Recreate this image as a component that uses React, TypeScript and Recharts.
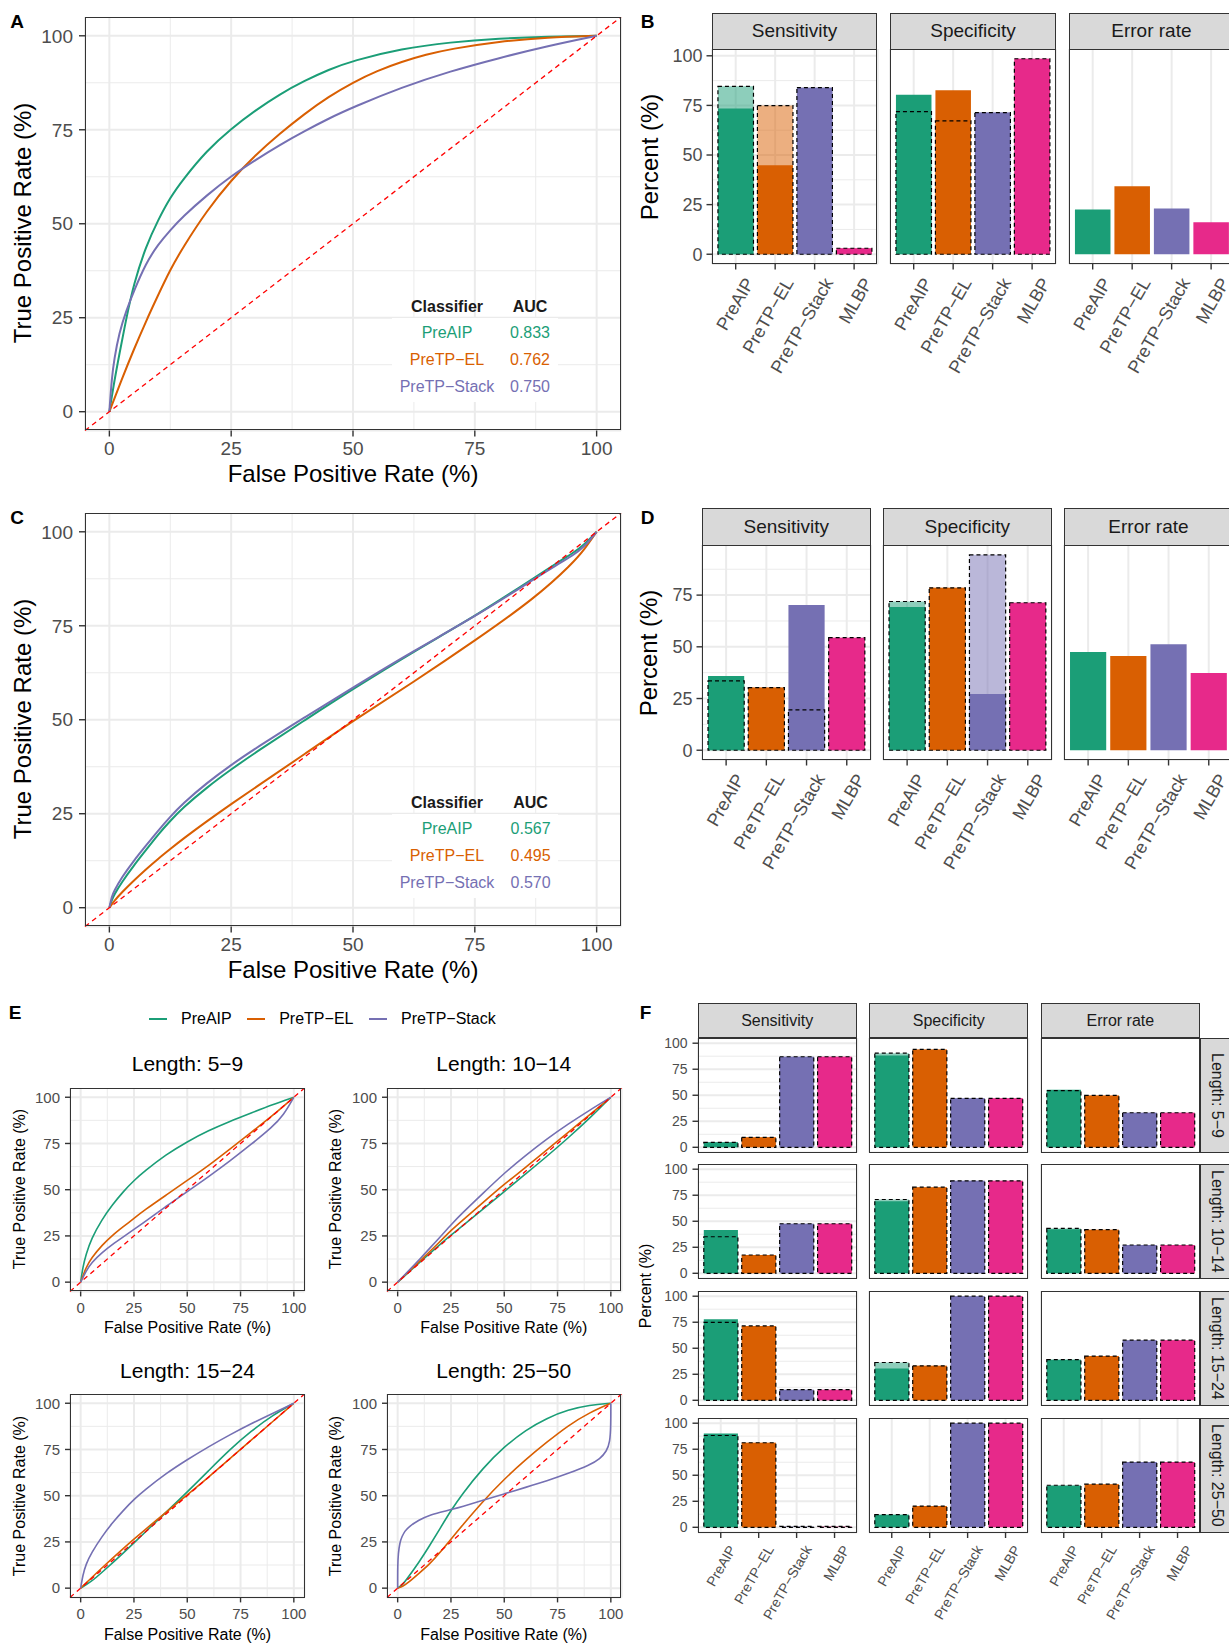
import React from "react";
import {
  LineChart, Line, BarChart, Bar, Cell, XAxis, YAxis, CartesianGrid, ReferenceLine,
} from "recharts";

const FONT = '"Liberation Sans", Arial, Helvetica, sans-serif';
const GRID = "#EBEBEB";
const INK = "#333333";
const TICK = "#4D4D4D";

const METHODS = ["PreAIP", "PreTP\u2212EL", "PreTP\u2212Stack", "MLBP"];
const COLORS = ["#1B9E77", "#D95F02", "#7570B3", "#E7298A"];
const FACETS = ["Sensitivity", "Specificity", "Error rate"];
const LENGTHS = ["Length: 5\u22129", "Length: 10\u221214", "Length: 15\u221224", "Length: 25\u221250"];

// ---- panel A : ROC, independent test ----
const aAipFpr = [0, 1, 2, 3.5, 5, 7.5, 10, 12.5, 15, 20, 25, 30, 35, 40, 45, 50, 60, 70, 80, 90, 100];
const aAipTpr = [0, 8, 15, 25, 34, 44, 51, 57, 61.6, 69.5, 75.3, 80.2, 84.5, 88, 91, 93.4, 96.6, 98.3, 99.3, 99.8, 100];
const aElFpr = [0, 2.5, 5, 7.5, 10, 12.5, 15, 20, 25, 30, 35, 40, 45, 50, 55, 60, 65, 70, 80, 90, 100];
const aElTpr = [0, 8.5, 16.5, 24, 31, 37.8, 43.5, 53.5, 61.6, 68.3, 74, 79.2, 83.8, 87.6, 90.7, 93.1, 95, 96.5, 98.5, 99.6, 100];
const aStackFpr = [0, 0.5, 1, 2, 3.5, 5, 7.5, 10, 12.5, 15, 20, 25, 30, 35, 40, 45, 50, 60, 70, 80, 90, 100];
const aStackTpr = [0, 9, 14, 21, 27, 32, 39.5, 44.5, 48.3, 51.8, 57.6, 62.7, 67, 71, 74.6, 78, 81, 86.3, 90.6, 94.1, 97.3, 100];
const aucA = ["0.833", "0.762", "0.750"];

// ---- panel C : ROC, second test set ----
const cAipFpr = [0, 0.5, 1, 2.5, 5, 7.5, 10, 12.5, 15, 20, 25, 30, 40, 50, 62.5, 75, 87.5, 92.5, 95, 97.5, 100];
const cAipTpr = [0, 2, 3.5, 6.7, 11.2, 15.3, 19.5, 23.1, 26.5, 32, 36.8, 41.3, 49.8, 58.2, 68.2, 77.5, 88, 92.3, 94.2, 96.6, 100];
const cElFpr = [0, 1, 2.5, 5, 7.5, 10, 12.5, 15, 20, 25, 30, 40, 50, 62.5, 75, 87.5, 95, 97.5, 100];
const cElTpr = [0, 1.8, 4, 7.2, 10.2, 13, 15.6, 18.2, 23, 27.6, 32, 40.8, 49.7, 60.1, 71, 82.5, 91.5, 95.3, 100];
const cStackFpr = [0, 0.5, 1, 2.5, 5, 7.5, 10, 12.5, 15, 20, 25, 30, 40, 50, 62.5, 75, 87.5, 92.5, 95, 97.5, 100];
const cStackTpr = [0, 3, 4.5, 8, 12.5, 16.5, 20.5, 24.2, 27.6, 33.2, 38, 42.4, 50.6, 58.6, 68.4, 77.4, 87.7, 91.8, 93.6, 96, 100];
const aucC = ["0.567", "0.495", "0.570"];

// ---- panel E : ROC by peptide length ----
const e1AipFpr = [0, 1, 2.5, 5, 10, 15, 20, 25, 30, 40, 50, 60, 70, 80, 90, 100];
const e1AipTpr = [0, 8, 15, 23.5, 34, 42, 49, 55, 60, 69, 76, 82, 87, 91.5, 96, 100];
const e1ElFpr = [0, 2.5, 5, 10, 15, 20, 25, 30, 40, 50, 60, 70, 80, 90, 100];
const e1ElTpr = [0, 8, 13, 20, 25.5, 30, 34.5, 39, 47, 55, 63, 72, 81, 90, 100];
const e1StackFpr = [0, 2.5, 5, 10, 15, 20, 25, 30, 40, 50, 60, 70, 80, 90, 95, 100];
const e1StackTpr = [0, 6, 10.5, 16, 20.5, 24.5, 28.5, 32.5, 41, 49, 57, 65.5, 74.5, 84, 90, 100];

const e2AipFpr = [0, 5, 10, 20, 25, 30, 40, 50, 60, 70, 80, 90, 100];
const e2AipTpr = [0, 5, 10.5, 20.5, 25.5, 30, 39.5, 49, 58.5, 68, 78, 88.5, 100];
const e2ElFpr = [0, 5, 10, 20, 25, 30, 40, 50, 60, 70, 80, 90, 100];
const e2ElTpr = [0, 5.5, 11, 22, 28, 33, 43, 53, 62, 71.5, 81, 90.5, 100];
const e2StackFpr = [0, 5, 10, 20, 25, 30, 40, 50, 60, 70, 80, 90, 100];
const e2StackTpr = [0, 6, 12, 24.5, 31, 37, 48, 59, 68.5, 77.5, 85.5, 93, 100];

const e3AipFpr = [0, 5, 10, 20, 25, 30, 40, 50, 60, 70, 80, 90, 100];
const e3AipTpr = [0, 3.5, 8.5, 19, 24.5, 30, 41, 52, 63.5, 75, 85, 93.5, 100];
const e3ElFpr = [0, 5, 10, 20, 25, 30, 40, 50, 60, 70, 80, 90, 100];
const e3ElTpr = [0, 5.5, 11, 21.5, 26.5, 31.5, 41, 50.5, 60, 70, 80, 90, 100];
const e3StackFpr = [0, 1, 2.5, 5, 10, 15, 20, 25, 30, 40, 50, 60, 70, 80, 90, 100];
const e3StackTpr = [0, 7, 13, 19, 28, 35.5, 42, 48, 53, 62, 69.5, 76.5, 83, 89, 94.5, 100];

const e4AipFpr = [0, 2.5, 5, 10, 15, 20, 25, 30, 40, 50, 60, 70, 80, 90, 100];
const e4AipTpr = [0, 2, 6, 14, 23, 32.5, 42, 50.5, 65, 76.5, 85.5, 92, 96.5, 99, 100];
const e4ElFpr = [0, 2.5, 5, 10, 15, 20, 25, 30, 40, 50, 60, 70, 80, 90, 100];
const e4ElTpr = [0, 1, 3, 8, 13, 19.5, 26.5, 33.5, 47, 59, 69.5, 79, 88, 95, 100];
const e4StackFpr = [0, 0, 0.3, 1, 2, 3.5, 5, 10, 15, 20, 25, 30, 40, 50, 60, 70, 80, 90, 95, 98, 99.6, 100, 100];
const e4StackTpr = [0, 12, 19, 24.5, 28, 31, 33, 37, 39.5, 41, 42.5, 44, 47.5, 51, 54.5, 58, 62, 66.5, 70, 74, 79, 88, 100];

// ---- panel B : bars, independent test (solid = this study, dashed = reported) ----
const bSensSolid = [73.5, 44.9, 83.9, 3.0];
const bSensDashed = [84.6, 74.9, 84.0, 3.0];
const bSpecSolid = [80.4, 82.6, 71.4, 98.5];
const bSpecDashed = [71.9, 67.2, 71.4, 98.5];
const bErrSolid = [22.6, 34.2, 23.1, 16.1];

// ---- panel D ----
const dSensSolid = [35.9, 30.3, 70.2, 54.4];
const dSensDashed = [33.5, 30.3, 19.5, 54.4];
const dSpecSolid = [69.2, 78.5, 27.2, 71.3];
const dSpecDashed = [71.9, 78.5, 94.5, 71.3];
const dErrSolid = [47.5, 45.5, 51.3, 37.3];

// ---- panel F : bars by length ----
const fSens5 = [4.8, 9.6, 87, 87];
const fSens5D = [4.8, 9.6, 87, 87];
const fSpec5 = [88.2, 94, 47, 47];
const fSpec5D = [90.4, 94, 47, 47];
const fErr5 = [55.3, 49.8, 33.2, 33.2];
const fErr5D = [54.5, 49.8, 33.2, 33.2];

const fSens10 = [41.5, 17.6, 47.6, 47.6];
const fSens10D = [35.1, 17.6, 47.6, 47.6];
const fSpec10 = [69.3, 82.7, 88.8, 88.8];
const fSpec10D = [70.9, 82.7, 88.8, 88.8];
const fErr10 = [42.2, 41.9, 27.2, 27.2];
const fErr10D = [43.1, 41.9, 27.2, 27.2];

const fSens15 = [77.8, 71.4, 10.2, 10.2];
const fSens15D = [74.9, 71.4, 10.2, 10.2];
const fSpec15 = [30.6, 33.1, 100, 100];
const fSpec15D = [36.3, 33.1, 100, 100];
const fErr15 = [39, 42.5, 57.8, 57.8];
const fErr15D = [39, 42.5, 57.8, 57.8];

const fSens25 = [90.1, 81.2, 0, 0];
const fSens25D = [88.2, 81.2, 0, 0];
const fSpec25 = [12.1, 20.4, 100, 100];
const fSpec25D = [12.1, 20.4, 100, 100];
const fErr25 = [39.8, 41.4, 62.7, 62.7];
const fErr25D = [40.4, 41.4, 62.7, 62.7];

const ROC_TICKS = [0, 25, 50, 75, 100];
const MINORS = [12.5, 37.5, 62.5, 87.5];

function Txt({ x, y, size, children, color = "#000", weight = 400, rot = 0 }: any) {
  return (
    <div
      style={{
        position: "absolute", left: x, top: y, fontSize: size, fontWeight: weight, color,
        transform: `translate(-50%,-50%) rotate(${rot}deg)`, whiteSpace: "nowrap",
        lineHeight: 1, fontFamily: FONT,
      }}
    >
      {children}
    </div>
  );
}

function Frame({ x, y, w, h }: any) {
  return (
    <div
      style={{
        position: "absolute", left: x, top: y, width: w, height: h, boxSizing: "border-box",
        border: `1.6px solid ${INK}`, pointerEvents: "none",
      }}
    />
  );
}

function Strip({ x, y, w, h, label, size, vertical }: any) {
  return (
    <div
      style={{
        position: "absolute", left: x, top: y, width: w, height: h, boxSizing: "border-box",
        background: "#D9D9D9", border: `1.4px solid ${INK}`, display: "flex",
        alignItems: "center", justifyContent: "center", fontSize: size, color: "#1A1A1A",
        fontFamily: FONT, whiteSpace: "nowrap",
      }}
    >
      <span style={vertical ? { writingMode: "vertical-rl" } : undefined}>{label}</span>
    </div>
  );
}

function RocPanel({ x, y, w, h, curves, fs, yw, xh, lw, tickLen, gapX, gapY }: any) {
  const tickStyle = { fontSize: fs, fill: TICK, fontFamily: FONT };
  const R = 24;
  return (
    <div style={{ position: "absolute", left: x - yw, top: y }}>
      <LineChart width={yw + w + R} height={h + xh} margin={{ top: 0, right: R, bottom: 0, left: 0 }}>
        <CartesianGrid stroke={GRID} strokeWidth={1} horizontalValues={MINORS} verticalValues={MINORS} />
        <CartesianGrid stroke={GRID} strokeWidth={2} />
        <XAxis
          type="number" dataKey="fpr" domain={[-5, 105]} ticks={ROC_TICKS} interval={0}
          allowDataOverflow height={xh} axisLine={false} tickSize={tickLen} tickMargin={gapX}
          tick={tickStyle} tickLine={{ stroke: INK, strokeWidth: 1.4 }}
        />
        <YAxis
          type="number" domain={[-5, 105]} ticks={ROC_TICKS} interval={0}
          allowDataOverflow width={yw} axisLine={false} tickSize={tickLen} tickMargin={gapY}
          tick={tickStyle} tickLine={{ stroke: INK, strokeWidth: 1.4 }}
        />
        {curves.map((c: any, k: number) => (
          <Line
            key={k}
            data={c.fpr.map((f: number, i: number) => ({ fpr: f, tpr: c.tpr[i] }))}
            dataKey="tpr" type="basis" stroke={c.color} strokeWidth={lw}
            dot={false} activeDot={false} isAnimationActive={false}
          />
        ))}
        <ReferenceLine
          segment={[{ x: -5, y: -5 }, { x: 105, y: 105 }]}
          stroke="#FF0000" strokeWidth={1.3} strokeDasharray="5 4" ifOverflow="visible"
        />
      </LineChart>
      <Frame x={yw} y={0} w={w} h={h} />
    </div>
  );
}

function RotTick(props: any) {
  const { x, y, payload, fs, shift } = props;
  return (
    <text
      x={x} y={y} dy={fs * 0.72 + shift} textAnchor="end" fontSize={fs} fill={TICK}
      fontFamily={FONT} transform={`rotate(-60 ${x} ${y})`}
    >
      {payload.value}
    </text>
  );
}

function BarFacet({
  x, y, w, h, solid, dashed, domain, ticks, yw, xh, labels, xTicks, fs, xfs, tickLen, gapY, shift,
}: any) {
  const rows = METHODS.map((m, i) => ({ m, solid: solid[i], dashed: dashed ? dashed[i] : null }));
  const band = w / 4.2;
  const pad = (w - 4 * band) / 2;
  const bw = band * 0.9;
  const showY = yw > 0;
  const L = 75;
  return (
    <div style={{ position: "absolute", left: x - L, top: y }}>
      <BarChart width={L + w + 4} height={h + xh} data={rows} margin={{ top: 0, right: 4, bottom: 0, left: L - yw }}>
        <CartesianGrid stroke={GRID} strokeWidth={1} vertical={false} horizontalValues={MINORS} />
        <CartesianGrid stroke={GRID} strokeWidth={2} />
        <XAxis
          dataKey="m" padding={{ left: pad, right: pad }} height={xh} axisLine={false} interval={0}
          tickSize={xTicks ? tickLen : 0}
          tickLine={xTicks ? { stroke: INK, strokeWidth: 1.4 } : false}
          tick={labels ? (p: any) => <RotTick {...p} fs={xfs} shift={shift} /> : false}
        />
        <XAxis xAxisId="b" dataKey="m" padding={{ left: pad, right: pad }} hide />
        <YAxis
          type="number" domain={domain} ticks={ticks} interval={0} allowDataOverflow width={yw}
          axisLine={false} tickSize={showY ? tickLen : 0} tickMargin={gapY}
          tick={showY ? { fontSize: fs, fill: TICK, fontFamily: FONT } : false}
          tickLine={showY ? { stroke: INK, strokeWidth: 1.4 } : false}
        />
        <Bar dataKey="solid" barSize={bw} isAnimationActive={false}>
          {rows.map((_, i) => <Cell key={i} fill={COLORS[i]} />)}
        </Bar>
        {dashed && (
          <Bar
            dataKey="dashed" xAxisId="b" barSize={bw} isAnimationActive={false} minPointSize={1}
            fillOpacity={0.5} stroke="#000" strokeWidth={1.2} strokeDasharray="4 3"
          >
            {rows.map((_, i) => (
              <Cell key={i} fill={COLORS[i]} fillOpacity={0.5} stroke="#000" strokeDasharray="4 3" />
            ))}
          </Bar>
        )}
      </BarChart>
      <Frame x={L} y={0} w={w} h={h} />
    </div>
  );
}

function AucTable({ header, cols, names, aucs }: any) {
  const rowY = [header + 26.6, header + 53.2, header + 80.2];
  return (
    <>
      <div style={{ position: "absolute", left: 392, top: header + 11.5, width: 166, height: 84, background: "#fff" }} />
      <Txt x={cols[0]} y={header} size={16} weight={700} color="#1A1A1A">Classifier</Txt>
      <Txt x={cols[1]} y={header} size={16} weight={700} color="#1A1A1A">AUC</Txt>
      {names.map((n: string, i: number) => (
        <React.Fragment key={n}>
          <Txt x={cols[0]} y={rowY[i]} size={16} color={COLORS[i]}>{n}</Txt>
          <Txt x={cols[1]} y={rowY[i]} size={16} color={COLORS[i]}>{aucs[i]}</Txt>
        </React.Fragment>
      ))}
    </>
  );
}

const curvesA = [
  { fpr: aAipFpr, tpr: aAipTpr, color: COLORS[0] },
  { fpr: aElFpr, tpr: aElTpr, color: COLORS[1] },
  { fpr: aStackFpr, tpr: aStackTpr, color: COLORS[2] },
];
const curvesC = [
  { fpr: cAipFpr, tpr: cAipTpr, color: COLORS[0] },
  { fpr: cElFpr, tpr: cElTpr, color: COLORS[1] },
  { fpr: cStackFpr, tpr: cStackTpr, color: COLORS[2] },
];
const curvesE = [
  [[e1AipFpr, e1AipTpr], [e1ElFpr, e1ElTpr], [e1StackFpr, e1StackTpr]],
  [[e2AipFpr, e2AipTpr], [e2ElFpr, e2ElTpr], [e2StackFpr, e2StackTpr]],
  [[e3AipFpr, e3AipTpr], [e3ElFpr, e3ElTpr], [e3StackFpr, e3StackTpr]],
  [[e4AipFpr, e4AipTpr], [e4ElFpr, e4ElTpr], [e4StackFpr, e4StackTpr]],
].map((set) => set.map(([fpr, tpr], i) => ({ fpr, tpr, color: COLORS[i] })));

const fRows = [
  [[fSens5, fSens5D], [fSpec5, fSpec5D], [fErr5, fErr5D]],
  [[fSens10, fSens10D], [fSpec10, fSpec10D], [fErr10, fErr10D]],
  [[fSens15, fSens15D], [fSpec15, fSpec15D], [fErr15, fErr15D]],
  [[fSens25, fSens25D], [fSpec25, fSpec25D], [fErr25, fErr25D]],
];

function padDomain(arrs: number[][]) {
  const max = Math.max(...arrs.flat().filter((v) => v != null));
  return [-0.05 * max, 1.05 * max];
}

export default function App() {
  const bDomain = padDomain([bSensSolid, bSensDashed, bSpecSolid, bSpecDashed, bErrSolid]);
  const dDomain = padDomain([dSensSolid, dSensDashed, dSpecSolid, dSpecDashed, dErrSolid]);
  const bX = [711.7, 890.1, 1068.5];
  const dX = [701.8, 882.9, 1064.0];
  const fX = [697.5, 869.1, 1040.7];
  const fY = [1038.3, 1164.3, 1291.2, 1418.3];
  const eX = [70.2, 386.5];
  const eY = [1087.7, 1394.3];

  return (
    <div
      style={{
        position: "absolute", left: 0, top: 0, width: 1229, height: 1646, overflow: "hidden",
        background: "#fff", fontFamily: FONT,
      }}
    >
      {/* A */}
      <Txt x={17} y={21} size={19} weight={700}>A</Txt>
      <RocPanel x={85} y={16.5} w={536} h={413.5} curves={curvesA} fs={19} yw={85} xh={60} lw={2} tickLen={6} gapX={5} gapY={6} />
      <AucTable header={306.7} cols={[447, 530]} names={METHODS.slice(0, 3)} aucs={aucA} />
      <Txt x={353} y={474} size={24}>False Positive Rate (%)</Txt>
      <Txt x={22.7} y={223} size={24} rot={-90}>True Positive Rate (%)</Txt>

      {/* C */}
      <Txt x={17} y={516.7} size={19} weight={700}>C</Txt>
      <RocPanel x={85} y={512.5} w={536} h={413.5} curves={curvesC} fs={19} yw={85} xh={60} lw={2} tickLen={6} gapX={5} gapY={6} />
      <AucTable header={802.7} cols={[447, 530.6]} names={METHODS.slice(0, 3)} aucs={aucC} />
      <Txt x={353} y={970} size={24}>False Positive Rate (%)</Txt>
      <Txt x={22.7} y={719} size={24} rot={-90}>True Positive Rate (%)</Txt>

      {/* B */}
      <Txt x={647.5} y={21} size={19} weight={700}>B</Txt>
      {FACETS.map((f, i) => (
        <Strip key={f} x={bX[i]} y={12.7} w={165.8} h={37} label={f} size={19} />
      ))}
      {[[bSensSolid, bSensDashed], [bSpecSolid, bSpecDashed], [bErrSolid, null]].map(([s, d], i) => (
        <BarFacet
          key={i} x={bX[i]} y={49.3} w={165.8} h={215} solid={s} dashed={d} domain={bDomain}
          ticks={[0, 25, 50, 75, 100]} yw={i === 0 ? 48 : 0} xh={110} labels xTicks fs={18} xfs={18}
          tickLen={5.5} gapY={4} shift={9}
        />
      ))}
      <Txt x={650} y={157} size={24} rot={-90}>Percent (%)</Txt>

      {/* D */}
      <Txt x={647.5} y={516.7} size={19} weight={700}>D</Txt>
      {FACETS.map((f, i) => (
        <Strip key={f} x={dX[i]} y={507.7} w={168.9} h={38} label={f} size={19} />
      ))}
      {[[dSensSolid, dSensDashed], [dSpecSolid, dSpecDashed], [dErrSolid, null]].map(([s, d], i) => (
        <BarFacet
          key={i} x={dX[i]} y={545} w={168.9} h={215} solid={s} dashed={d} domain={dDomain}
          ticks={[0, 25, 50, 75]} yw={i === 0 ? 38 : 0} xh={110} labels xTicks fs={18} xfs={18}
          tickLen={5.5} gapY={4} shift={9}
        />
      ))}
      <Txt x={649} y={652.5} size={24} rot={-90}>Percent (%)</Txt>

      {/* E */}
      <Txt x={15} y={1011.7} size={19} weight={700}>E</Txt>
      <div
        style={{
          position: "absolute", left: 149, top: 1009, display: "flex", alignItems: "center",
          fontSize: 16, fontFamily: FONT, color: "#000", lineHeight: "20px",
        }}
      >
        {METHODS.slice(0, 3).map((m, i) => (
          <React.Fragment key={m}>
            <span style={{ display: "inline-block", width: 18, height: 2, background: COLORS[i], marginRight: 14 }} />
            <span style={{ marginRight: 15.5 }}>{m}</span>
          </React.Fragment>
        ))}
      </div>
      {curvesE.map((cs, k) => {
        const px = eX[k % 2];
        const py = eY[Math.floor(k / 2)];
        return (
          <React.Fragment key={k}>
            <Txt x={px + 117.3} y={py - 24.4} size={21}>{LENGTHS[k]}</Txt>
            <RocPanel x={px} y={py} w={234.5} h={203.4} curves={cs} fs={15} yw={50} xh={50} lw={1.6} tickLen={5} gapX={6} gapY={5} />
            <Txt x={px + 117.3} y={py + 240.5} size={16}>False Positive Rate (%)</Txt>
            <Txt x={px - 50.6} y={py + 101.7} size={16} rot={-90}>True Positive Rate (%)</Txt>
          </React.Fragment>
        );
      })}

      {/* F */}
      <Txt x={645.6} y={1011.7} size={19} weight={700}>F</Txt>
      {FACETS.map((f, i) => (
        <Strip key={f} x={fX[i]} y={1003.3} w={159.3} h={35} label={f} size={16} />
      ))}
      {fRows.map((row, r) => (
        <React.Fragment key={r}>
          {row.map(([s, d], c) => (
            <BarFacet
              key={c} x={fX[c]} y={fY[r]} w={159.3} h={114.5} solid={s} dashed={d} domain={[-5, 105]}
              ticks={[0, 25, 50, 75, 100]} yw={c === 0 ? 36 : 0} xh={r === 3 ? 110 : 0}
              labels={r === 3} xTicks={r === 3} fs={14} xfs={14} tickLen={5.5} gapY={5} shift={8}
            />
          ))}
          <Strip x={1200} y={fY[r]} w={34} h={114.5} label={LENGTHS[r]} size={16} vertical />
        </React.Fragment>
      ))}
      <Txt x={645.6} y={1286} size={16} rot={-90}>Percent (%)</Txt>
    </div>
  );
}
